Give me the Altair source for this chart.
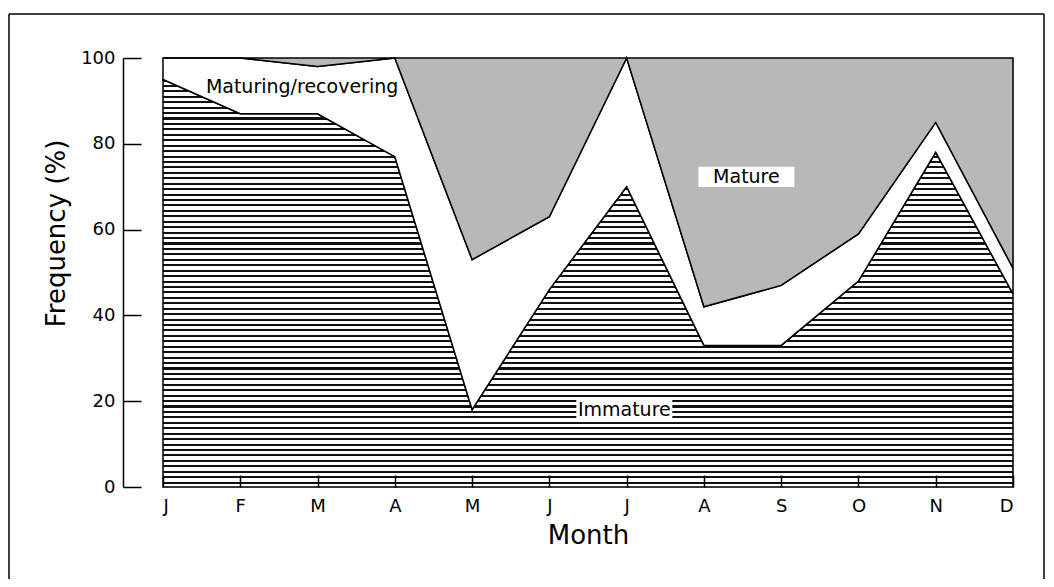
import altair as alt
import pandas as pd

# ---- data ----
month_letters = ["J", "F", "M", "A", "M", "J", "J", "A", "S", "O", "N", "D"]
month_pos = [0, 1, 2, 3, 4, 5, 6, 7, 8, 9, 10, 11]
immature = [95, 87, 87, 77, 18, 46, 70, 33, 33, 48, 78, 45]
maturing = [5, 13, 11, 23, 35, 17, 30, 9, 14, 11, 7, 6]
mature = [0, 0, 2, 0, 47, 37, 0, 58, 53, 41, 15, 49]

label_text = ["Maturing/recovering", "Mature", "Immature"]
label_x = [1.80, 7.55, 5.97]
label_y = [93.2, 72.3, 18.0]

df = pd.DataFrame({"month": month_pos, "immature": immature,
                   "maturing": maturing, "mature": mature})
labels = pd.DataFrame({"label": label_text, "lx": label_x, "ly": label_y})
one = pd.DataFrame({"k": [0]})

FONT = "DejaVu Sans"

# horizontal hatch as a striped linear gradient (style only)
n_stripes = 75
stops = []
for i in range(n_stripes):
    a = i / n_stripes
    b = (i + 0.38) / n_stripes
    c = (i + 1) / n_stripes
    stops += [alt.GradientStop(color="#111111", offset=a),
              alt.GradientStop(color="#111111", offset=b),
              alt.GradientStop(color="#ffffff", offset=b),
              alt.GradientStop(color="#ffffff", offset=c)]
hatch = alt.Gradient(gradient="linear", stops=stops, x1=0, x2=0, y1=0, y2=1)

x_axis = alt.Axis(values=month_pos,
                  labelExpr="%s[datum.value]" % str(month_letters),
                  tickSize=alt.ExprRef(expr="-12"), tickWidth=1.5,
                  tickColor="black", zindex=1,
                  domain=False, grid=False, labelPadding=22,
                  labelFont=FONT, labelFontSize=18, labelColor="black",
                  title="Month", titleFont=FONT, titleFontSize=26,
                  titleFontWeight="normal", titleColor="black",
                  titleY=48, titleBaseline="middle")
xscale = alt.Scale(domain=[0, 11], nice=False, zero=False)
yscale = alt.Scale(domain=[0, 100], nice=False)

yaxis_main = alt.Axis(orient="left", offset=40, values=[0, 20, 40, 60, 80, 100],
                      tickSize=alt.ExprRef(expr="-18"), tickWidth=1.5,
                      tickColor="black", labelPadding=26, domainColor="black",
                      domainWidth=1.5, grid=False,
                      labelFont=FONT, labelFontSize=18, labelColor="black",
                      title="Frequency (%)", titleFont=FONT, titleFontSize=26,
                      titleFontWeight="normal", titleColor="black",
                      titleX=-67, titleY=175, titleAngle=270,
                      titleAlign="center", titleBaseline="middle")

base = alt.Chart(df).transform_calculate(
    cum="datum.immature + datum.maturing",
    top="datum.immature + datum.maturing + datum.mature",
    zero="0",
)

X = alt.X("month:Q", scale=xscale, axis=x_axis)

imm = base.mark_area(fill=hatch, stroke="black", strokeWidth=1.5).encode(
    x=X,
    y=alt.Y("immature:Q", scale=yscale, axis=yaxis_main),
    y2="zero:Q",
)
mat_rec = base.mark_area(fill="white", stroke="black", strokeWidth=1.5).encode(
    x=X,
    y=alt.Y("cum:Q", scale=yscale, axis=yaxis_main),
    y2="immature:Q",
)
mat = base.mark_area(fill="#b8b8b8", stroke="black", strokeWidth=1.5).encode(
    x=X,
    y=alt.Y("top:Q", scale=yscale, axis=yaxis_main),
    y2="cum:Q",
)

LX = alt.X("lx:Q", scale=xscale, axis=x_axis)
LY = alt.Y("ly:Q", scale=yscale, axis=yaxis_main)

boxes = alt.Chart(labels).transform_filter(
    alt.FieldOneOfPredicate(field="label", oneOf=["Mature", "Immature"])
).mark_point(shape="M-1,-0.21L1,-0.21L1,0.21L-1,0.21Z", filled=True,
             fill="white", opacity=1, strokeWidth=0, size=9216).encode(
    x=LX, y=LY,
)
texts = alt.Chart(labels).mark_text(font=FONT, fontSize=19, color="black",
                                    align="center", baseline="middle").encode(
    x=LX, y=LY, text="label:N",
)

frame_left = alt.Chart(one).mark_rule(color="black", strokeWidth=1.5).encode(
    x=alt.value(-154), y=alt.value(-44), y2=alt.value(521))
frame_top = alt.Chart(one).mark_rule(color="black", strokeWidth=1.5).encode(
    x=alt.value(-154), x2=alt.value(881), y=alt.value(-44))
frame_right = alt.Chart(one).mark_rule(color="black", strokeWidth=1.5).encode(
    x=alt.value(881), y=alt.value(-44), y2=alt.value(521))

chart = alt.layer(imm, mat_rec, mat, boxes, texts,
                  frame_left, frame_top, frame_right).properties(
    width=850, height=429,
    autosize=alt.AutoSizeParams(type="none"),
    padding={"left": 155, "top": 50, "right": 33, "bottom": 92},
).configure_view(stroke=None).configure(background="white")

chart.save("out.html", embed_options={"renderer": "svg", "actions": False})
